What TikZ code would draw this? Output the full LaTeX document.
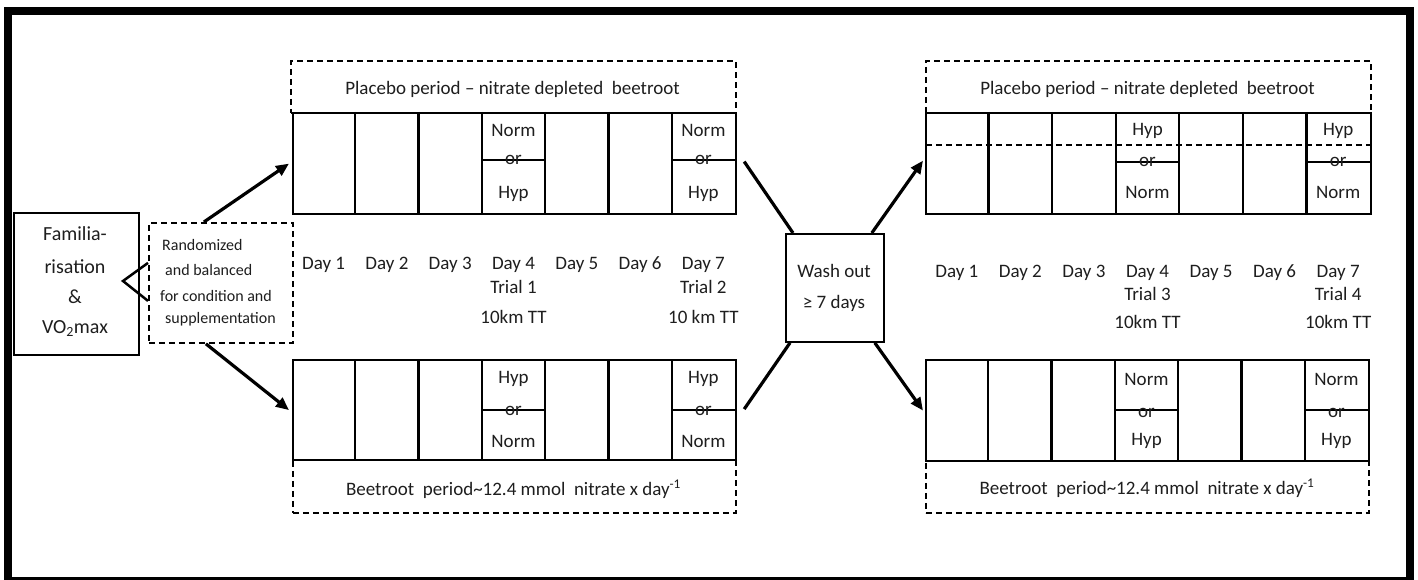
\documentclass[tikz,border=0pt]{standalone}
\usepackage{fontspec}
\setmainfont{Carlito}
\usetikzlibrary{arrows.meta,calc}
\definecolor{ink}{HTML}{1E1E1E}
\begin{document}
\begin{tikzpicture}[x=1pt,y=-1pt,
  gridln/.style={line width=2.2pt},
  gridbox/.style={draw, line width=2.2pt, inner sep=0pt, anchor=north west},
  txt/.style={inner sep=0pt, anchor=base, text=ink, font=\fontsize{19}{21}\selectfont},
  smalltxt/.style={inner sep=0pt, anchor=base west, text=ink, font=\fontsize{16}{18}\selectfont},
  bigtxt/.style={inner sep=0pt, anchor=base, text=ink, font=\fontsize{20}{22}\selectfont},
  dbox/.style={draw, line width=1.8pt, dash pattern=on 6pt off 4pt, inner sep=0pt, anchor=north west},
  plainbox/.style={draw, line width=1.8pt, inner sep=0pt, anchor=north west},
  arr/.style={line width=3.2pt, -{Triangle[length=13pt,width=11pt]}},
  conn/.style={line width=3.2pt}
]
\useasboundingbox (0,0) rectangle (1418,580);
\fill[white] (0,0) rectangle (1418,580);
% outer frame
\draw[line width=8pt] (8,11) rectangle (1410,581);

% left boxes
\node[plainbox, minimum width=125pt, minimum height=142pt] (fam) at (13,212) {};
\node[dbox, minimum width=144pt, minimum height=120pt] (rand) at (148,222) {};
\node[bigtxt] (f1) at (75,240) {Familia-};
\node[bigtxt] (f2) at (75,273) {risation};
\node[bigtxt] (f3) at (75,303) {\&};
\node[bigtxt] (f4) at (75,333) {VO\textsubscript{2}max};
\node[smalltxt] (r1) at (162,250) {Randomized};
\node[smalltxt] (r2) at (165,275) {and balanced};
\node[smalltxt] (r3) at (160,301) {for condition and};
\node[smalltxt] (r4) at (165,323) {supplementation};
\coordinate (tip) at (123,281);
\draw[line width=2.5pt] ($(rand.west)+(0,-20)$) -- (tip) -- ($(rand.west)+(0,18)$);

% dashed label boxes
\node[dbox, minimum width=445pt, minimum height=52pt] (TLd) at (290,60) {};
\node[dbox, minimum width=443pt, minimum height=53pt] (BLd) at (292,459) {};
\node[dbox, minimum width=445pt, minimum height=84pt] (TRd) at (925,60) {};
\node[dbox, minimum width=443pt, minimum height=52pt] (BRd) at (925,460) {};

% grids
\node[gridbox, minimum width=443pt, minimum height=101pt] (TL) at (292,112) {};
\node[gridbox, minimum width=443pt, minimum height=100pt] (BL) at (292,359) {};
\node[gridbox, minimum width=445pt, minimum height=101pt] (TR) at (925,112) {};
\node[gridbox, minimum width=443pt, minimum height=101pt] (BR) at (925,359) {};
\foreach \g/\w/\m in {TL/63.29/48, BL/63.29/51, TR/63.57/50, BR/63.29/51} {
  \foreach \i in {1,...,6}
    \draw[gridln] ($(\g.north west)+(\i*\w,0)$) -- ($(\g.south west)+(\i*\w,0)$);
  \draw[gridln] ($(\g.north west)+(3*\w,\m)$) -- ($(\g.north west)+(4*\w,\m)$);
  \draw[gridln] ($(\g.north west)+(6*\w,\m)$) -- ($(\g.north west)+(7*\w,\m)$);
}

% period labels
\node[txt] (pl1) at (512.5,95) {Placebo period – nitrate depleted \ beetroot};
\node[txt] (pl2) at (1147.5,95) {Placebo period – nitrate depleted \ beetroot};
\node[txt] (bt1) at (513.5,495) {Beetroot \ period\textasciitilde12.4 mmol \ nitrate x day\textsuperscript{-1}};
\node[txt] (bt2) at (1147,494) {Beetroot \ period\textasciitilde12.4 mmol \ nitrate x day\textsuperscript{-1}};

% cell texts
\foreach \x [count=\k] in {513.5,703.4} {
  \node[txt] (tla\k) at (\x,137) {Norm};
  \node[txt] (tlb\k) at (\x,165) {or};
  \node[txt] (tlc\k) at (\x,198) {Hyp};
  \node[txt] (bla\k) at (\x,383) {Hyp};
  \node[txt] (blb\k) at (\x,415) {or};
  \node[txt] (blc\k) at (\x,447) {Norm};
}
\foreach \x [count=\k] in {1147.5,1338.2} {
  \node[txt] (tra\k) at (\x,136) {Hyp};
  \node[txt] (trb\k) at (\x,167) {or};
  \node[txt] (trc\k) at (\x,198) {Norm};
}
\foreach \x [count=\k] in {1146.5,1336.4} {
  \node[txt] (bra\k) at (\x,385) {Norm};
  \node[txt] (brb\k) at (\x,417) {or};
  \node[txt] (brc\k) at (\x,445) {Hyp};
}

% day labels
\foreach \i in {1,...,7} {
  \node[txt] (ld\i) at ({292+63.29*(\i-0.5)},269) {Day \i};
  \node[txt] (rd\i) at ({925+63.57*(\i-0.5)},277) {Day \i};
}
\node[txt] (lt1) at (513.5,293) {Trial 1};
\node[txt] (lk1) at (513.5,323) {10km TT};
\node[txt] (lt2) at (703.4,293) {Trial 2};
\node[txt] (lk2) at (703.4,323) {10 km TT};
\node[txt] (rt3) at (1147.5,300) {Trial 3};
\node[txt] (rk3) at (1147.5,328) {10km TT};
\node[txt] (rt4) at (1338.2,300) {Trial 4};
\node[txt] (rk4) at (1338.2,328) {10km TT};

% wash out
\node[plainbox, minimum width=98pt, minimum height=108pt] (wash) at (785,233) {};
\node[txt] (w1) at (834,277) {Wash out};
\node[txt] (w2) at (834,308) {≥ 7 days};

% connectors
\draw[arr] ($(rand.north)+(-17,0)$) -- ($(TL.west)+(-3,0)$);
\draw[arr] ($(rand.south)+(-15,0)$) -- ($(BL.west)+(-3,0)$);
\draw[conn] ($(TL.east)+(7,-2)$) -- ($(wash.north west)+(8,0)$);
\draw[conn] ($(BL.east)+(7,-1)$) -- ($(wash.south west)+(5,0)$);
\draw[arr] ($(wash.north east)+(-13,0)$) -- ($(TR.west)+(-2,-3)$);
\draw[arr] ($(wash.south east)+(-10,0)$) -- ($(BR.west)+(-2,0)$);
\end{tikzpicture}
\end{document}
